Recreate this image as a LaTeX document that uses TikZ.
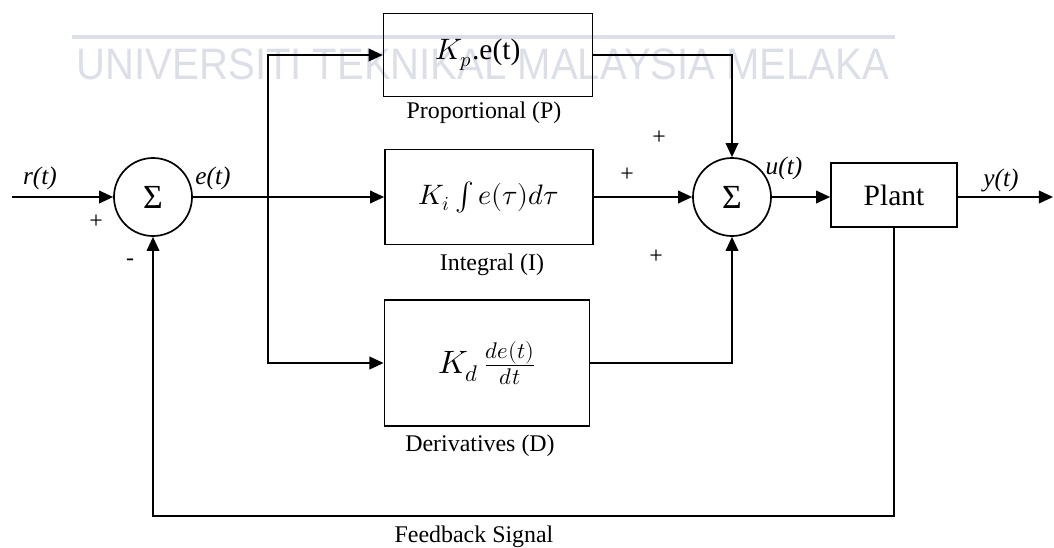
\documentclass[tikz,border=0pt]{standalone}
\usepackage{fontspec}
\usepackage{unicode-math}
\setmainfont{Liberation Serif}
\setmathfont{Latin Modern Math}
\newfontfamily\wmfont{Liberation Sans}
\usetikzlibrary{arrows.meta}
\tikzset{
  blk/.style={draw,line width=1.2pt,inner sep=0pt},
  sumnode/.style={draw,circle,line width=1.2pt,minimum size=1.95cm,inner sep=0pt,font=\fontsize{24}{26}\selectfont},
  sig/.style={line width=1.2pt,-{Triangle[length=10pt,width=9pt]}},
  lbl/.style={font=\fontsize{17}{19}\selectfont},
  sgn/.style={font=\fontsize{18}{20}\selectfont\itshape},
  pm/.style={font=\fontsize{17}{18}\selectfont}
}
\begin{document}
\begin{tikzpicture}[x=0.025cm,y=-0.025cm]
\useasboundingbox (0,0) rectangle (1054,547);
% watermark
\draw[color={rgb,255:red,220;green,223;blue,232},line width=2.5pt] (72,37) -- (895,37);
\node[color={rgb,255:red,220;green,223;blue,232},font=\wmfont\fontsize{28.5}{30}\selectfont,yscale=1.1] (wm) at (483,64) {UNIVERSITI TEKNIKAL MALAYSIA MELAKA};
% summing junctions
\node[sumnode] (s1) at (153,197) {Σ};
\node[sumnode] (s2) at (732,197) {Σ};
% PID blocks
\node[blk,minimum width=5.22cm,minimum height=2.08cm,font=\fontsize{21}{23}\selectfont] (pb) at (488,55) {\raisebox{4pt}{$K_p$.e(t)}\kern0.5cm};
\node[blk,minimum width=5.2cm,minimum height=2.38cm,font=\fontsize{20}{22}\selectfont] (ib) at (489,197) {$K_i\int e(\tau)d\tau$};
\node[blk,minimum width=5.13cm,minimum height=3.15cm,font=\fontsize{23}{25}\selectfont] (db) at (487,363) {$K_d\,\frac{de(t)}{dt}$};
\node[blk,minimum width=3.15cm,minimum height=1.6cm,font=\fontsize{21}{23}\selectfont] (plant) at (894,195) {Plant};
% labels
\node[lbl] (plbl) at (484,113) {Proportional (P)};
\node[lbl] (ilbl) at (492,265) {Integral (I)};
\node[lbl] (dlbl) at (480,446) {Derivatives (D)};
\node[lbl] (fblbl) at (474,537) {Feedback Signal};
\node[sgn] (rlbl) at (40,178) {r(t)};
\node[sgn] (elbl) at (213,178) {e(t)};
\node[sgn] (ulbl) at (784,168) {u(t)};
\node[sgn] (ylbl) at (1001,180) {y(t)};
\node[pm] (p1) at (96,222) {+};
\node[pm] (m1) at (130,262) {-};
\node[pm] (p2) at (659,138) {+};
\node[pm] (p3) at (627,175) {+};
\node[pm] (p4) at (656,257) {+};
% signal paths
\coordinate (rin) at (12,197);
\coordinate (br) at (268,197);
\coordinate (yout) at (1053,197);
\coordinate (fb) at (520,516);
\draw[sig] (rin) -- (s1);
\draw[sig] (s1) -- (ib);
\draw[sig] (br) |- (pb.west);
\draw[sig] (br) |- (db.west);
\draw[sig] (pb.east) -| (s2.north);
\draw[sig] (ib) -- (s2);
\draw[sig] (db.east) -| (s2.south);
\draw[sig] (s2) -- (plant.west |- s2);
\draw[sig] (plant.east |- yout) -- (yout);
\draw[sig] (plant.south) |- (fb) -| (s1.south);
\end{tikzpicture}
\end{document}
